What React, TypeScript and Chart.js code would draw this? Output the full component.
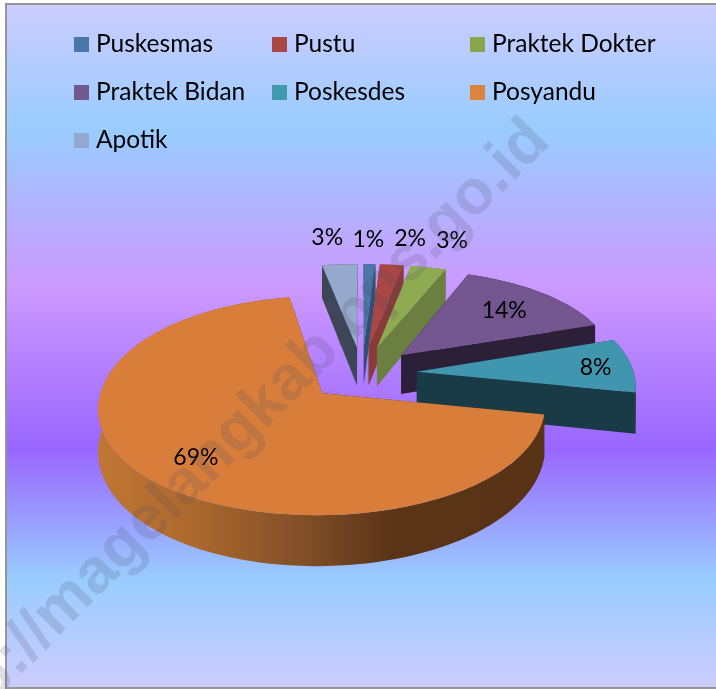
import React, { useEffect, useRef } from "react";
import { Chart, registerables } from "chart.js";

Chart.register(...registerables);

const categories = ["Puskesmas", "Pustu", "Praktek Dokter", "Praktek Bidan", "Poskesdes", "Posyandu", "Apotik"];
const shares = [1, 2, 3, 14, 8, 69, 3];
const faceColors = ["#4a76a8", "#aa4644", "#8fab52", "#735590", "#4096af", "#d87e3a", "#95a9cc"];
const wallColors = ["#2f5076", "#8a3a38", "#6b8040", "#2c1f38", "#183b46", "#573215", "#3d4657"];
const legendColors = ["#4a76a8", "#aa4644", "#89a54e", "#71588f", "#4198af", "#db843d", "#93a9cf"];
// label nudges from each slice's centroid
const labelShiftX = [1, 27, 43, 16, 50, -25, -19];
const labelShiftY = [-54, -55, -55, -5, 0, 15, -56];
const paintOrder = [0, 1, 2, 6, 3, 4, 5];
const FONT = "Lato, Carlito, sans-serif";

const EXPLODE = 55;
const DEPTH = 40;
const CX = 362;
const CY = 373.5;

function project(px: number, py: number, z = 0): [number, number] {
  const sx = 1 / (1 + 0.00055 * py);
  const sd = 1 / (1 + 0.00084 * py);
  const q = py > 0 ? 0.00036 : 0.00021;
  return [CX + px * sx, CY - 0.5 * py + q * py * py + z * DEPTH * sd];
}

const pie3d = {
  id: "pie3d",
  beforeDraw(chart: any) {
    const { ctx, width, height } = chart;
    ctx.save();
    ctx.fillStyle = "#ffffff";
    ctx.fillRect(0, 0, width, height);
    const g = ctx.createLinearGradient(0, 4, 0, 688);
    g.addColorStop(0, "#ccccff");
    g.addColorStop(0.185, "#99ccff");
    g.addColorStop(0.415, "#cc99ff");
    g.addColorStop(0.65, "#9966ff");
    g.addColorStop(0.84, "#99ccff");
    g.addColorStop(1, "#ccccff");
    ctx.fillStyle = g;
    ctx.fillRect(5.5, 4, width, 684);
    ctx.strokeStyle = "#969696";
    ctx.lineWidth = 2;
    ctx.strokeRect(6, 4, width, 684);
    ctx.restore();
  },
  beforeDatasetDraw() {
    return false;
  },
  afterDatasetsDraw(chart: any) {
    const { ctx } = chart;
    const arcs = chart.getDatasetMeta(0).data;
    const geo = (i: number) => {
      const a = arcs[i];
      const mid = (a.startAngle + a.endAngle) / 2;
      return {
        a,
        mid,
        ox: Math.cos(mid) * EXPLODE,
        oy: -Math.sin(mid) * EXPLODE,
        R: a.outerRadius,
      };
    };
    const arcPts = (i: number, z: number) => {
      const { a, ox, oy, R } = geo(i);
      const n = Math.max(4, Math.ceil((a.endAngle - a.startAngle) * 40));
      const pts: [number, number][] = [];
      for (let k = 0; k <= n; k++) {
        const t = a.startAngle + ((a.endAngle - a.startAngle) * k) / n;
        pts.push(project(ox + Math.cos(t) * R, oy - Math.sin(t) * R, z));
      }
      return pts;
    };
    const fillPoly = (pts: [number, number][], style: any) => {
      ctx.beginPath();
      pts.forEach((p, k) => (k ? ctx.lineTo(p[0], p[1]) : ctx.moveTo(p[0], p[1])));
      ctx.closePath();
      ctx.fillStyle = style;
      ctx.fill();
    };
    ctx.save();
    for (const i of paintOrder) {
      const { ox, oy } = geo(i);
      const top = arcPts(i, 0);
      const bot = arcPts(i, 1);
      const o0 = project(ox, oy, 0);
      const o1 = project(ox, oy, 1);
      fillPoly([o0, top[0], bot[0], o1], wallColors[i]);
      fillPoly([o0, top[top.length - 1], bot[bot.length - 1], o1], wallColors[i]);
      let wall: any = wallColors[i];
      if (i === 5) {
        const g = ctx.createLinearGradient(100, 0, 546, 0);
        g.addColorStop(0, "#c07533");
        g.addColorStop(0.2, "#ad6a2e");
        g.addColorStop(0.45, "#824f27");
        g.addColorStop(0.65, "#5b3518");
        g.addColorStop(1, "#573215");
        wall = g;
      }
      fillPoly([...top, ...bot.slice().reverse()], wall);
      fillPoly([o0, ...top], faceColors[i]);
    }
    // percentage labels
    ctx.fillStyle = "#000000";
    ctx.font = `23px ${FONT}`;
    ctx.textAlign = "center";
    ctx.textBaseline = "middle";
    const total = shares.reduce((s, v) => s + v, 0);
    shares.forEach((v, i) => {
      const { mid, ox, oy, R } = geo(i);
      const p = project(ox + Math.cos(mid) * R * 0.6, oy - Math.sin(mid) * R * 0.6);
      ctx.fillText(`${Math.round((v / total) * 100)}%`, p[0] + labelShiftX[i], p[1] + labelShiftY[i]);
    });
    // legend in three columns
    ctx.textAlign = "left";
    ctx.font = `24.5px ${FONT}`;
    categories.forEach((name, i) => {
      const col = i % 3;
      const row = Math.floor(i / 3);
      const x = 74 + col * 198;
      const y = 44.5 + row * 48;
      ctx.fillStyle = legendColors[i];
      ctx.fillRect(x, y - 7.5, 15, 15);
      ctx.fillStyle = "#000000";
      ctx.fillText(name, x + 22, y);
    });
    ctx.restore();
  },
  afterDraw(chart: any) {
    const { ctx } = chart;
    ctx.save();
    ctx.translate(230, 440);
    ctx.rotate(-Math.PI / 4);
    ctx.font = `bold 63px "Liberation Sans", Arial, sans-serif`;
    ctx.textAlign = "center";
    ctx.textBaseline = "middle";
    ctx.fillStyle = "rgba(80,80,100,0.18)";
    ctx.fillText("http://magelangkab.bps.go.id", 0, 0);
    ctx.restore();
  },
};

export default function App() {
  const ref = useRef<HTMLCanvasElement | null>(null);
  useEffect(() => {
    if (!ref.current) return;
    const chart = new Chart(ref.current, {
      type: "pie",
      data: {
        labels: categories,
        datasets: [{ data: shares, backgroundColor: faceColors, borderWidth: 0 }],
      },
      options: {
        responsive: false,
        animation: false,
        radius: 217,
        plugins: { legend: { display: false }, tooltip: { enabled: false } },
      },
      plugins: [pie3d],
    } as any);
    return () => chart.destroy();
  }, []);
  return (
    <canvas
      ref={ref}
      width={716}
      height={689}
      style={{ position: "absolute", left: 0, top: 0, display: "block" }}
    />
  );
}
